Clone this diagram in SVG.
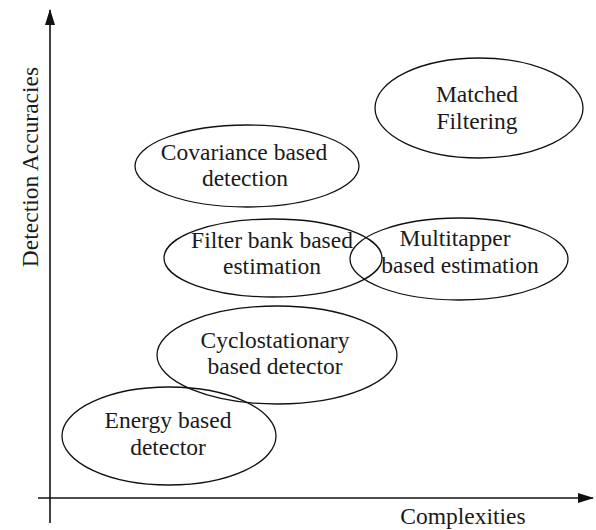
<svg xmlns="http://www.w3.org/2000/svg" width="596" height="530" viewBox="0 0 596 530">
<style>
  .node ellipse { fill: none; stroke: #111; stroke-width: 1.3; }
  text { font-family: "Liberation Serif", "Times New Roman", serif; font-size: 23.5px; fill: #1a1a1a; text-anchor: middle; }
  .axis { stroke: #111; stroke-width: 1.6; fill: none; }
</style>
<defs>
  <marker id="arrow" viewBox="0 0 16 10" refX="15" refY="5" markerWidth="16" markerHeight="10" markerUnits="userSpaceOnUse" orient="auto">
    <path d="M0,0 L16,5 L0,10 Z" fill="#111"/>
  </marker>
</defs>
<rect width="596" height="530" fill="#fff"/>
<g id="connectors">
  <line class="axis" x1="50" y1="523" x2="50" y2="10" marker-end="url(#arrow)"/>
  <line class="axis" x1="38" y1="498" x2="593" y2="498" marker-end="url(#arrow)"/>
</g>
<g id="axis-labels">
  <text x="38" y="167" transform="rotate(-90 38 167)">Detection Accuracies</text>
  <text x="463" y="524">Complexities</text>
</g>
<g id="matched" class="node">
  <ellipse cx="479" cy="108" rx="104" ry="50"/>
  <text x="477" y="102">Matched</text>
  <text x="477" y="129">Filtering</text>
</g>
<g id="covariance" class="node">
  <ellipse cx="247" cy="166" rx="112" ry="41"/>
  <text x="244" y="160">Covariance based</text>
  <text x="245" y="186">detection</text>
</g>
<g id="filterbank" class="node">
  <ellipse cx="273" cy="258" rx="109" ry="39"/>
  <text x="272" y="248">Filter bank based</text>
  <text x="272" y="274">estimation</text>
</g>
<g id="multitapper" class="node">
  <ellipse cx="459" cy="259" rx="109" ry="41"/>
  <text x="455" y="246">Multitapper</text>
  <text x="460" y="273">based estimation</text>
</g>
<g id="cyclostationary" class="node">
  <ellipse cx="277" cy="355" rx="120" ry="49"/>
  <text x="275" y="348">Cyclostationary</text>
  <text x="275" y="374">based detector</text>
</g>
<g id="energy" class="node">
  <ellipse cx="169" cy="436" rx="107" ry="49"/>
  <text x="168" y="428">Energy based</text>
  <text x="168" y="455">detector</text>
</g>
</svg>
